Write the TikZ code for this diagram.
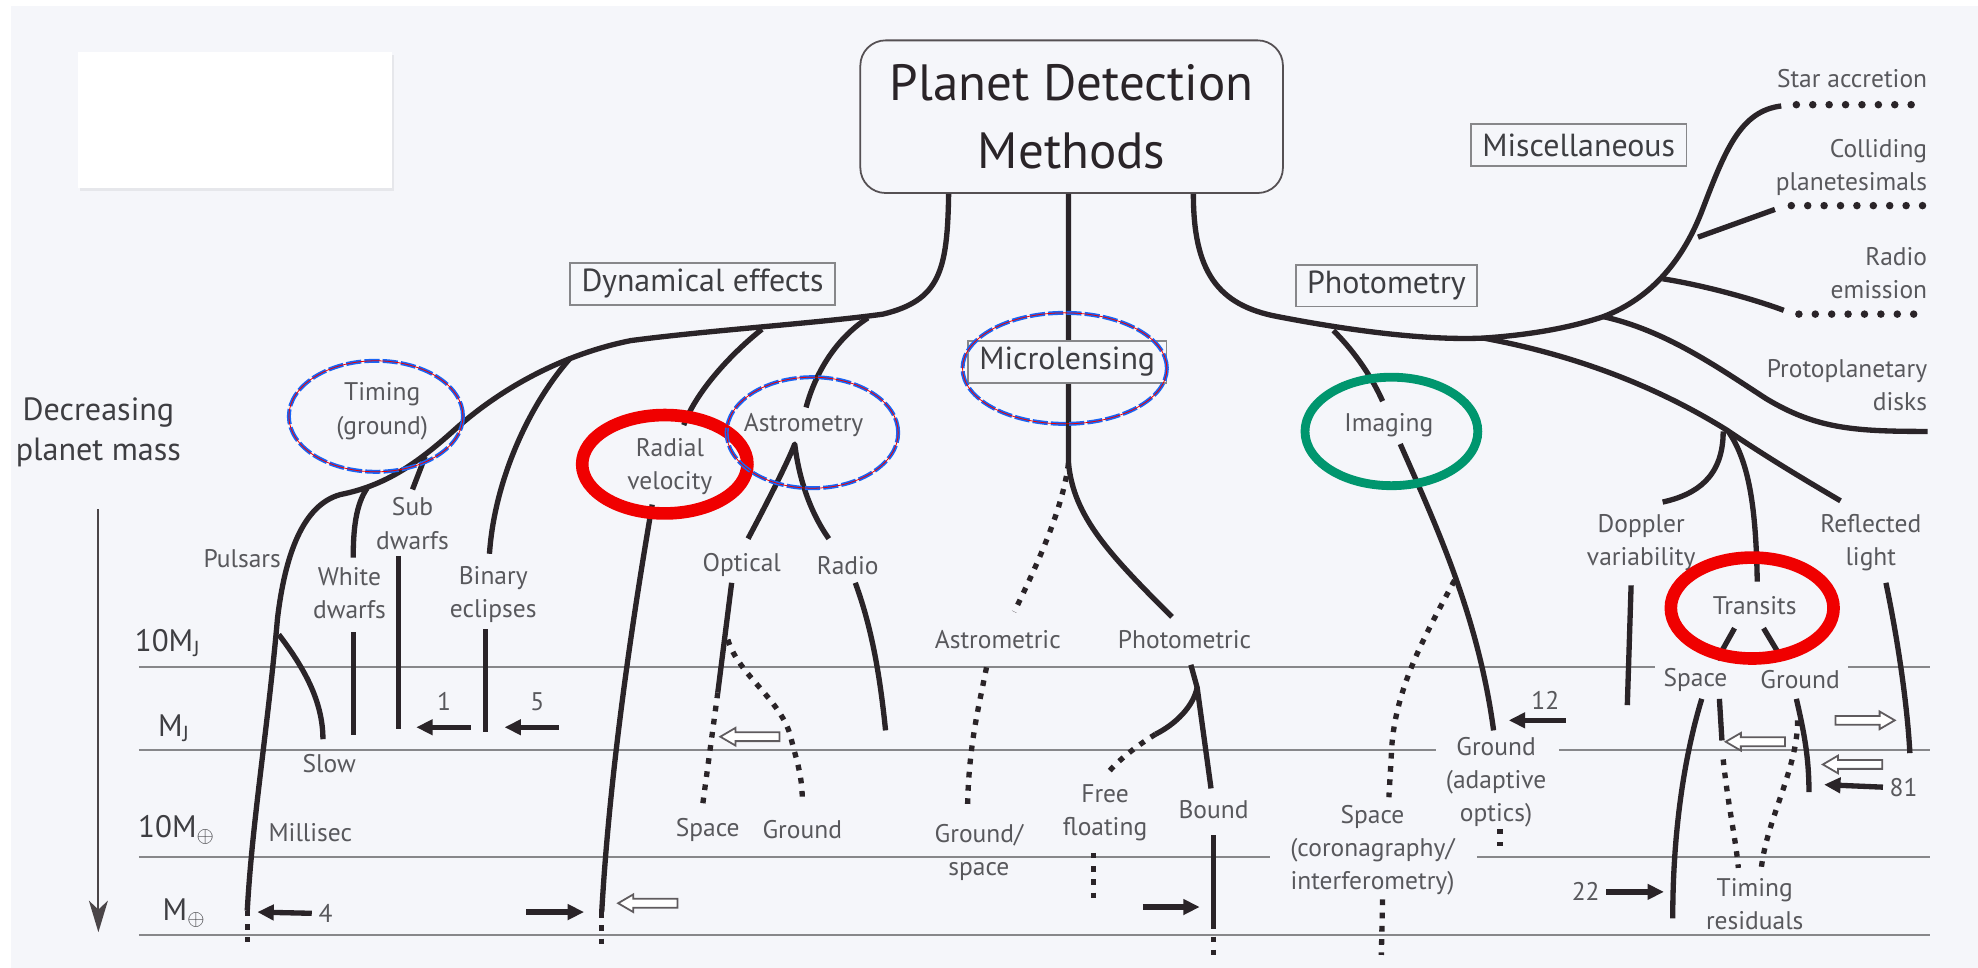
\documentclass[tikz,border=0pt]{standalone}
\usepackage{fontspec}
\setmainfont{PT Sans}
\usetikzlibrary{arrows.meta,shadows}

\definecolor{bg}{RGB}{245,246,250}
\definecolor{ink}{RGB}{42,36,40}
\definecolor{rule}{RGB}{135,135,138}
\definecolor{lbl}{RGB}{88,88,92}
\definecolor{catgray}{RGB}{62,62,66}
\definecolor{hlred}{RGB}{240,0,0}
\definecolor{hlgreen}{RGB}{0,150,110}
\definecolor{hlblue}{RGB}{25,100,245}

\tikzset{
  br/.style={draw=ink, line width=2.4pt, line join=round},
  brdot/.style={draw=ink, line width=2.4pt, dash pattern=on 0.9mm off 1.2mm},
  miscdots/.style={draw=ink, line width=3.4pt, line cap=round, dash pattern=on 0pt off 2.6mm},
  massline/.style={draw=rule, line width=0.9pt},
  tag/.style={font=\fontsize{11.5}{15}\selectfont, text=lbl, align=center, inner sep=0pt},
  cat/.style={draw=rule, fill=bg, line width=0.8pt, font=\fontsize{14.4}{17}\selectfont, text=catgray, inner xsep=1.8mm, inner ysep=0pt, minimum height=6.6mm},
  mass/.style={font=\fontsize{14}{17}\selectfont, text=catgray, inner sep=0pt},
  push/.style={draw=ink, line width=2.4pt, -{Triangle[length=2.6mm,width=2.4mm]}},
  ring/.style={draw=hlblue, line width=1.8pt, dash pattern=on 2.4mm off 0.5mm, postaction={draw=hlred, line width=0.35pt, solid}},
  redring/.style={draw=hlred, line width=2mm},
  greenring/.style={draw=hlgreen, line width=1.4mm},
  hollowarrow/.pic={\draw[draw=ink!75, line width=0.8pt, fill=white] (0,0) -- (12,-7) -- (12,-3.5) -- (47,-3.5) -- (47,3.5) -- (12,3.5) -- (12,7) -- cycle;}
}

\begin{document}
\begin{tikzpicture}[x=0.2mm, y=-0.2mm]
\useasboundingbox (0,0) rectangle (1568,767);
\fill[white] (0,0) rectangle (1568,767);
\fill[bg] (9,5) rectangle (1568,767);
\path[fill=white, drop shadow={opacity=0.12, shadow xshift=0.3mm, shadow yshift=-0.5mm}] (62,41) rectangle (311,149);

% title
\node[draw=ink!80, line width=0.8pt, fill=bg, rounded corners=4mm, minimum width=67mm, minimum height=24.2mm,
      align=center, font=\fontsize{23}{31}\selectfont, text=ink] (title) at (849.5,92.5) {Planet Detection\\Methods};

% mass scale
\draw[massline] (110,529) -- (1312,529) (1465,529) -- (1530,529);
\draw[massline] (110,594.5) -- (1138,594.5) (1236,594.5) -- (1530,594.5);
\draw[massline] (110,679) -- (1007,679) (1171,679) -- (1530,679);
\draw[massline] (110,741) -- (1530,741);
\node[mass] (mj10) at (133,510) {10M\textsubscript{J}};
\node[mass] (mj) at (138,577) {M\textsubscript{J}};
\node[mass] (me10) at (140,658) {10M$_\oplus$};
\node[mass] (me) at (146,724) {M$_\oplus$};
\node[align=center, font=\fontsize{14.5}{18}\selectfont, text=catgray, inner sep=0pt] (dec) at (78,343) {Decreasing\\planet mass};
\coordinate (massend) at (78,739);
\draw[draw=ink!85, line width=0.9pt, -{Stealth[length=5mm,width=3mm,inset=1.4mm]}] (dec.south) ++(0,33) -- (massend);

% dynamical effects
\draw[br] ([xshift=-19.5mm]title.south) .. controls (751,215) and (745,238) .. (700,249)
  .. controls (650,256) and (560,262) .. (500,270)
  .. controls (450,280) and (400,305) .. (360,341)
  .. controls (330,368) and (305,385) .. (270,392)
  .. controls (240,400) and (226,440) .. (220,490)
  .. controls (212,580) and (200,650) .. (196,722);
\draw[brdot] (196,722) -- (196,747);
\draw[br] (221,503) .. controls (240,528) and (256,555) .. (256,586);
\draw[br] (291,387) .. controls (282,400) and (280,420) .. (280,442);
\draw[br] (280,501) -- (280,583);
\draw[br] (337,362) -- (327,388);
\draw[br] (316,441) -- (316,578);
\draw[br] (452,284) .. controls (420,320) and (392,380) .. (388,439);
\draw[br] (385,499) -- (385,580);
\draw[br] (604,261) .. controls (580,280) and (552,310) .. (542,337);
\draw[br] (517,400) .. controls (505,470) and (484,600) .. (477,723);
\draw[brdot] (477,723) -- (477,749);
\draw[br] (688,252) .. controls (660,270) and (645,300) .. (639,323);
\draw[br] (593,427) .. controls (610,395) and (625,365) .. (630,352) .. controls (634,385) and (645,410) .. (657,427);
\draw[br] (580,462) -- (569,549);
\draw[brdot] (569,549) -- (557,638);
\draw[brdot] (577,507) .. controls (585,535) and (620,555) .. (627,585) .. controls (632,605) and (636,615) .. (636,635);
\draw[br] (678,462) .. controls (692,500) and (698,540) .. (702,579);

% microlensing
\draw[br] ([xshift=-0.5mm]title.south) -- (847,367);
\draw[brdot] (847,367) .. controls (843,400) and (826,440) .. (804,485);
\draw[br] (847,367) .. controls (851,410) and (880,440) .. (929,489);
\draw[brdot] (782,529) .. controls (776,560) and (768,590) .. (767,639);
\draw[br] (944,527) -- (949,545) -- (960,625);
\draw[br] (949,545) .. controls (946,560) and (932,574) .. (916,582);
\draw[brdot] (916,582) .. controls (900,592) and (886,603) .. (877,614);
\draw[brdot] (867,676) -- (867,717);
\draw[br] (962,662) -- (962,732);
\draw[brdot] (962,732) -- (962,757);

% photometry and miscellaneous
\draw[br] ([xshift=19.3mm]title.south) .. controls (946,215) and (965,242) .. (1013,251)
  .. controls (1070,262) and (1130,270) .. (1176,268)
  .. controls (1220,265) and (1250,258) .. (1271,251)
  .. controls (1310,236) and (1335,205) .. (1350,165)
  .. controls (1368,118) and (1380,88) .. (1412,84);
\draw[miscdots] (1424,83) -- (1528,83);
\draw[br] (1346,188) -- (1407,166);
\draw[miscdots] (1420,163) -- (1528,163);
\draw[br] (1318,221) .. controls (1350,226) and (1390,237) .. (1414,246);
\draw[miscdots] (1426,249) -- (1528,249);
\draw[br] (1271,251) .. controls (1320,262) and (1360,290) .. (1400,316) .. controls (1440,340) and (1470,342) .. (1528,342);
\draw[br] (1176,268) .. controls (1230,278) and (1300,298) .. (1369,341) .. controls (1400,362) and (1430,380) .. (1459,397);
\draw[br] (1366,342) .. controls (1366,378) and (1345,392) .. (1318,398);
\draw[br] (1370,342) .. controls (1386,365) and (1392,400) .. (1393,461);
\draw[br] (1057,262) .. controls (1075,280) and (1088,300) .. (1096,318);
\draw[br] (1110,352) .. controls (1140,420) and (1172,490) .. (1184,579);
\draw[brdot] (1153,460) .. controls (1132,500) and (1105,545) .. (1103,597) -- (1101,632);
\draw[brdot] (1096,713) -- (1095,757);
\draw[brdot] (1189,657) -- (1189,671);
\draw[br] (1293,464) -- (1290,559);
\draw[br] (1375,498) -- (1361,523);
\draw[br] (1398,498) -- (1410,518);
\draw[br] (1349,554) .. controls (1335,600) and (1326,660) .. (1326,728);
\draw[br] (1363,554) -- (1365,587);
\draw[brdot] (1366,602) .. controls (1370,640) and (1376,665) .. (1378,688);
\draw[br] (1424,554) .. controls (1430,580) and (1434,600) .. (1434,628);
\draw[brdot] (1425,571) .. controls (1425,610) and (1400,650) .. (1396,690);
\draw[br] (1495,462) .. controls (1505,510) and (1512,560) .. (1514,597);

% category boxes
\node[cat] (dyn) at (557,225) {Dynamical effects};
\node[cat] (micro) at (846,287) {Microlensing};
\node[cat] (photo) at (1099,226.5) {Photometry};
\node[cat] (misc) at (1251.5,115) {Miscellaneous};

% labels
\node[tag] (pulsars) at (192,443) {Pulsars};
\node[tag] (wdw) at (277,470) {White\\dwarfs};
\node[tag] (sdw) at (327,415) {Sub\\dwarfs};
\node[tag] (binecl) at (391,471.5) {Binary\\eclipses};
\node[tag] (timing) at (303,326) {Timing\\(ground)};
\node[tag] (radvel) at (531,370) {Radial\\velocity};
\node[tag] (astrom) at (637,337) {Astrometry};
\node[tag] (optical) at (588,448) {Optical};
\node[tag] (radio) at (672,448) {Radio};
\node[tag] (aspace) at (561,658) {Space};
\node[tag] (aground) at (636,658) {Ground};
\node[tag] (slow) at (261,605) {Slow};
\node[tag] (msec) at (246,660) {Millisec};
\node[tag] (astrometric) at (791,507) {Astrometric};
\node[tag] (photometric) at (939,507) {Photometric};
\node[tag] (gspace) at (776,676) {Ground/\\space};
\node[tag] (free) at (876,644) {Free\\floating};
\node[tag] (bound) at (962,642) {Bound};
\node[tag] (imaging) at (1101,337) {Imaging};
\node[tag] (ispace) at (1088,674) {Space\\(coronagraphy/\\interferometry)};
\node[tag] (iground) at (1186,620) {Ground\\(adaptive\\optics)};
\node[tag] (doppler) at (1301,430) {Doppler\\variability};
\node[tag] (transits) at (1391,480) {Transits};
\node[tag] (reflected) at (1483,430) {Reflected\\light};
\node[tag] (tspace) at (1344,539) {Space};
\node[tag] (tground) at (1427,539) {Ground};
\node[tag] (tres) at (1391,717) {Timing\\residuals};
\node[tag, anchor=east, align=right] (staracc) at (1528,62) {Star accretion};
\node[tag, anchor=east, align=right] (collide) at (1528,133) {Colliding\\planetesimals};
\node[tag, anchor=east, align=right] (radioem) at (1528,216.5) {Radio\\emission};
\node[tag, anchor=east, align=right] (protodisk) at (1528,305) {Protoplanetary\\disks};

% numbers and arrows
\node[tag] (n1) at (352,556) {1};
\node[tag] (n5) at (426,556) {5};
\node[tag] (n4) at (258,724) {4};
\node[tag] (n12) at (1225,555) {12};
\node[tag] (n81) at (1509,624) {81};
\node[tag] (n22) at (1257,707) {22};
\draw[push] (373,576.5) -- (330,576.5);
\draw[push] (443,576.5) -- (400,576.5);
\draw[push] ([xshift=-1mm]n4.west) -- (204,723);
\draw[push] (417,723) -- (463,723);
\draw[push] (906,719) -- (951,719);
\draw[push] (1241,571) -- (1196,571);
\draw[push] ([xshift=-1mm]n81.west) -- (1446,622);
\draw[push] ([xshift=1mm]n22.east) -- (1319,707);
\pic at (571,584) {hollowarrow};
\pic at (490,716) {hollowarrow};
\pic at (1368,588) {hollowarrow};
\pic at (1445,606) {hollowarrow};
\pic[xscale=-1] at (1502,571) {hollowarrow};

% highlights
\draw[redring] (527,368) ellipse [x radius=13.1mm, y radius=7.8mm];
\draw[redring] (1389,482) ellipse [x radius=12.9mm, y radius=8mm];
\draw[greenring] (1103,342) ellipse [x radius=13.7mm, y radius=8.6mm];
\draw[ring] (298,330) ellipse [x radius=13.8mm, y radius=8.8mm];
\draw[ring] (644,343) ellipse [x radius=13.6mm, y radius=8.8mm];
\draw[ring] (844,292) ellipse [x radius=16.2mm, y radius=8.8mm];
\end{tikzpicture}
\end{document}
